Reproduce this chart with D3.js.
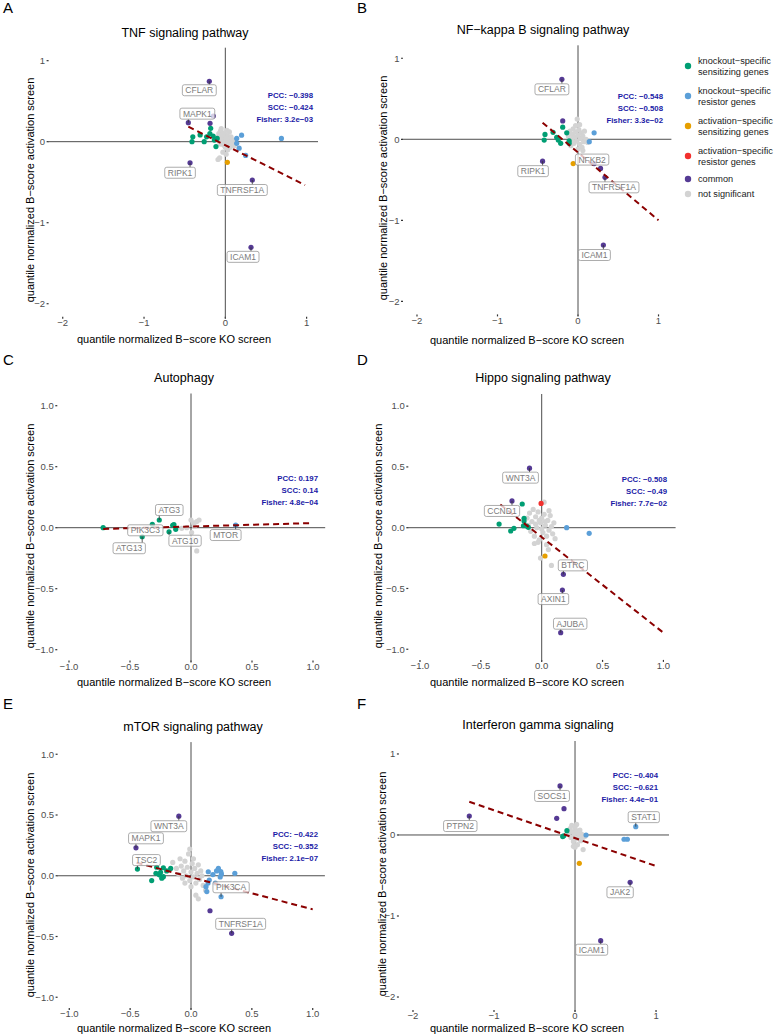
<!DOCTYPE html>
<html>
<head>
<meta charset="utf-8">
<script src="https://cdn.jsdelivr.net/npm/d3@7"></script>
<style>
  body { margin: 0; background: #fff; }
  text { font-family: "Liberation Sans", Arial, sans-serif; }
</style>
</head>
<body>
<div class="fig"></div>
<script>
/* Six KO vs activation screen scatter panels, redrawn from the figure. */

// ---- data ----
const panelTitles = ["TNF signaling pathway", "NF\u2212kappa B signaling pathway", "Autophagy",
                     "Hippo signaling pathway", "mTOR signaling pathway", "Interferon gamma signaling"];
const panelLetters = ["A", "B", "C", "D", "E", "F"];
const xTitle = "quantile normalized B\u2212score KO screen";
const yTitle = "quantile normalized B\u2212score activation screen";

const groupKeys = ["ks", "kr", "as", "ar", "cm", "ns"];
const groupNames = [["knockout\u2212specific", "sensitizing genes"], ["knockout\u2212specific", "resistor genes"],
                    ["activation\u2212specific", "sensitizing genes"], ["activation\u2212specific", "resistor genes"],
                    ["common"], ["not significant"]];

const wideTicks = [-2, -1, 0, 1];
const narrowTicks = [-1, -0.5, 0, 0.5, 1];

// [x, y, group]
const tnfPoints = [
  [-0.1,0.05,"ns"],[-0.08,0.1,"ns"],[-0.06,0.13,"ns"],[-0.05,0.07,"ns"],[-0.04,0.02,"ns"],[-0.03,0.11,"ns"],
  [-0.02,0.06,"ns"],[-0.01,0.0,"ns"],[0.0,0.09,"ns"],[0.01,0.04,"ns"],[0.02,-0.02,"ns"],[0.03,0.07,"ns"],
  [0.04,0.01,"ns"],[0.05,-0.04,"ns"],[0.06,0.03,"ns"],[0.07,0.06,"ns"],[0.08,-0.01,"ns"],[0.1,0.02,"ns"],
  [-0.07,0.0,"ns"],[-0.02,-0.04,"ns"],[0.0,-0.07,"ns"],[0.03,-0.1,"ns"],[-0.03,-0.13,"ns"],[0.01,-0.155,"ns"],
  [-0.07,-0.2,"ns"],[-0.09,-0.22,"ns"],[0.05,0.12,"ns"],[0.02,0.14,"ns"],[-0.05,0.16,"ns"],[0.11,-0.05,"ns"],
  [0.06,-0.07,"ns"],[-0.06,-0.03,"ns"],
  [-0.40,0.06,"ks"],[-0.41,0.0,"ks"],[-0.31,0.083,"ks"],[-0.26,0.0,"ks"],[-0.23,0.06,"ks"],[-0.18,0.165,"ks"],
  [-0.19,0.10,"ks"],[-0.15,0.07,"ks"],[-0.135,0.02,"ks"],[-0.115,-0.06,"ks"],[-0.10,0.04,"ks"],
  [0.14,0.04,"kr"],[0.20,0.08,"kr"],[0.14,-0.02,"kr"],[0.17,-0.08,"kr"],[0.25,-0.17,"kr"],[0.69,0.04,"kr"],
  [0.025,-0.255,"as"],
  [-0.148,0.317,"cm"],[-0.188,0.227,"cm"]
];
const tnfLabels = [["CFLAR",-0.197,0.746,"cm"],["MAPK1",-0.455,0.235,"cm"],["RIPK1",-0.434,-0.26,"cm"],
                   ["TNFRSF1A",0.332,-0.473,"cm"],["ICAM1",0.316,-1.304,"cm"]];
const tnfFit = [[-0.455,0.185],[0.98,-0.535]];
const tnfStats = ["PCC: \u22120.398", "SCC: \u22120.424", "Fisher: 3.2e\u221203"];

const nfkbPoints = [
  [-0.12,0.04,"ns"],[-0.1,0.1,"ns"],[-0.08,0.0,"ns"],[-0.07,0.06,"ns"],[-0.06,0.13,"ns"],[-0.05,-0.05,"ns"],
  [-0.04,0.03,"ns"],[-0.03,0.09,"ns"],[-0.02,-0.02,"ns"],[-0.01,0.25,"ns"],[0.0,0.05,"ns"],[0.01,0.12,"ns"],
  [0.02,-0.06,"ns"],[0.03,0.01,"ns"],[0.04,0.08,"ns"],[0.05,-0.1,"ns"],[0.06,0.04,"ns"],[0.07,-0.03,"ns"],
  [0.08,0.1,"ns"],[0.1,0.0,"ns"],[0.12,-0.04,"ns"],[0.0,-0.12,"ns"],[-0.03,0.17,"ns"],[0.02,0.18,"ns"],
  [0.06,-0.14,"ns"],[-0.09,-0.08,"ns"],
  [-0.41,0.06,"ks"],[-0.42,-0.01,"ks"],[-0.31,0.086,"ks"],[-0.265,0.025,"ks"],[-0.245,-0.01,"ks"],
  [-0.215,-0.05,"ks"],[-0.19,0.15,"ks"],[-0.14,0.08,"ks"],[-0.11,-0.02,"ks"],[-0.11,-0.05,"ks"],
  [0.2,0.08,"kr"],[0.14,-0.03,"kr"],
  [-0.06,-0.3,"as"],
  [-0.19,0.226,"cm"],[0.28,-0.36,"cm"]
];
const nfkbLabels = [["CFLAR",-0.2,0.74,"cm"],["RIPK1",-0.44,-0.27,"cm"],["NFKB2",0.2,-0.3,"cm"],
                    ["TNFRSF1A",0.335,-0.47,"cm"],["ICAM1",0.315,-1.305,"cm"]];
const nfkbFit = [[-0.44,0.205],[1.0,-1.0]];
const nfkbStats = ["PCC: \u22120.548", "SCC: \u22120.508", "Fisher: 3.3e\u221202"];

const autoPoints = [
  [-0.076,-0.005,"ns"],[0.0,0.063,"ns"],[0.02,0.04,"ns"],[0.047,0.05,"ns"],[0.066,0.063,"ns"],
  [0.005,-0.04,"ns"],[0.047,-0.19,"ns"],[-0.035,0.0,"ns"],[0.03,0.01,"ns"],[0.01,-0.1,"ns"],
  [-0.72,0.0,"ks"],[-0.15,0.02,"ks"],[-0.14,0.025,"ks"],[-0.125,-0.013,"ks"]
];
const autoLabels = [["ATG3",-0.26,0.063,"ks"],["PIK3C3",-0.317,0.028,"ks"],["ATG13",-0.4,-0.074,"ks"],
                    ["ATG10",-0.18,-0.033,"ks"],["MTOR",0.366,0.022,"kr"]];
const autoFit = [[-0.72,-0.01],[1.0,0.038]];
const autoStats = ["PCC: 0.197", "SCC: 0.14", "Fisher: 4.8e\u221204"];

const hippoPoints = [
  [-0.12,0.08,"ns"],[-0.11,0.02,"ns"],[-0.1,0.12,"ns"],[-0.09,-0.03,"ns"],[-0.08,0.05,"ns"],[-0.07,0.15,"ns"],
  [-0.06,-0.07,"ns"],[-0.05,0.09,"ns"],[-0.04,0.0,"ns"],[-0.03,0.13,"ns"],[-0.02,-0.1,"ns"],[-0.01,0.04,"ns"],
  [0.0,0.08,"ns"],[0.01,-0.04,"ns"],[0.02,0.11,"ns"],[0.03,0.02,"ns"],[0.04,-0.07,"ns"],[0.05,0.06,"ns"],
  [0.06,-0.02,"ns"],[0.07,0.1,"ns"],[0.08,0.01,"ns"],[0.09,-0.05,"ns"],[0.1,0.04,"ns"],[0.11,-0.09,"ns"],
  [0.02,0.21,"ns"],[-0.03,-0.12,"ns"],[-0.01,-0.25,"ns"],[0.08,-0.31,"ns"],[0.055,-0.18,"ns"],
  [-0.06,-0.13,"ns"],[0.04,-0.14,"ns"],[0.06,0.14,"ns"],[-0.02,0.06,"ns"],[0.0,-0.01,"ns"],
  [0.03,0.05,"ns"],[-0.05,0.03,"ns"],
  [-0.35,0.03,"ks"],[-0.16,0.195,"ks"],[-0.255,-0.027,"ks"],[-0.228,-0.005,"ks"],[-0.145,0.077,"ks"],
  [-0.145,0.055,"ks"],[-0.15,0.016,"ks"],[-0.11,0.003,"ks"],[-0.123,0.014,"ks"],
  [0.205,0.0,"kr"],[0.39,-0.046,"kr"],
  [0.027,-0.233,"as"],
  [-0.005,0.2,"ar"]
];
const hippoLabels = [["WNT3A",-0.1,0.49,"cm"],["CCND1",-0.244,0.22,"cm"],["BTRC",0.178,-0.384,"cm"],
                     ["AXIN1",0.17,-0.513,"cm"],["AJUBA",0.156,-0.864,"cm"]];
const hippoFit = [[-0.34,0.19],[1.0,-0.864]];
const hippoStats = ["PCC: \u22120.508", "SCC: \u22120.49", "Fisher: 7.7e\u221202"];

const mtorPoints = [
  [-0.15,0.11,"ns"],[-0.12,0.06,"ns"],[-0.1,0.01,"ns"],[-0.09,0.14,"ns"],[-0.08,0.08,"ns"],[-0.07,-0.02,"ns"],
  [-0.06,0.04,"ns"],[-0.05,0.12,"ns"],[-0.04,0.0,"ns"],[-0.03,0.07,"ns"],[-0.02,0.18,"ns"],[-0.01,-0.04,"ns"],
  [0.0,0.03,"ns"],[0.01,0.1,"ns"],[0.02,-0.01,"ns"],[0.03,0.06,"ns"],[0.04,-0.06,"ns"],[0.05,0.02,"ns"],
  [0.06,0.09,"ns"],[0.07,-0.03,"ns"],[0.08,0.04,"ns"],[0.1,-0.08,"ns"],[0.04,-0.16,"ns"],[0.06,-0.19,"ns"],
  [-0.01,0.22,"ns"],[0.02,0.14,"ns"],[-0.05,-0.06,"ns"],[0.09,0.0,"ns"],[0.0,-0.09,"ns"],[0.12,-0.12,"ns"],
  [-0.323,-0.04,"ks"],[-0.282,0.07,"ks"],[-0.288,0.02,"ks"],[-0.26,0.008,"ks"],[-0.227,-0.008,"ks"],
  [-0.25,0.028,"ks"],[-0.227,0.066,"ks"],[-0.167,0.06,"ks"],[-0.2,0.04,"ks"],[-0.24,-0.02,"ks"],
  [0.142,0.033,"kr"],[0.18,0.01,"kr"],[0.21,0.04,"kr"],[0.225,0.06,"kr"],[0.245,0.035,"kr"],[0.25,0.015,"kr"],
  [0.36,0.02,"kr"],[0.15,-0.035,"kr"],[0.14,-0.06,"kr"],[0.123,-0.09,"kr"],[0.13,-0.13,"kr"],[0.24,-0.01,"kr"],
  [0.2,-0.06,"kr"],
  [0.156,-0.288,"cm"]
];
const mtorLabels = [["WNT3A",-0.1,0.49,"cm"],["MAPK1",-0.452,0.23,"cm"],["TSC2",-0.44,0.055,"ks"],
                    ["PIK3CA",0.247,-0.173,"kr"],["TNFRSF1A",0.334,-0.474,"cm"]];
const mtorFit = [[-0.447,0.107],[1.0,-0.277]];
const mtorStats = ["PCC: \u22120.422", "SCC: \u22120.352", "Fisher: 2.1e\u221207"];

const ifngPoints = [
  [-0.08,0.02,"ns"],[-0.06,0.08,"ns"],[-0.05,-0.03,"ns"],[-0.04,0.12,"ns"],[-0.03,0.04,"ns"],[-0.02,-0.08,"ns"],
  [-0.01,0.0,"ns"],[0.0,0.09,"ns"],[0.01,-0.05,"ns"],[0.02,0.05,"ns"],[0.03,-0.12,"ns"],[0.04,0.02,"ns"],
  [0.05,-0.02,"ns"],[0.06,0.06,"ns"],[0.07,-0.07,"ns"],[0.08,0.01,"ns"],[0.1,-0.18,"ns"],[0.0,-0.15,"ns"],
  [0.02,0.13,"ns"],[-0.02,-0.14,"ns"],[0.09,-0.04,"ns"],[0.12,-0.02,"ns"],
  [-0.1,0.053,"ks"],[-0.152,-0.02,"ks"],[-0.14,-0.01,"ks"],
  [0.136,0.0,"kr"],[0.605,-0.053,"kr"],[0.646,-0.053,"kr"],
  [0.053,-0.35,"as"],
  [-0.136,0.325,"cm"],[-0.226,0.206,"cm"]
];
const ifngLabels = [["SOCS1",-0.185,0.605,"cm"],["PTPN2",-1.305,0.234,"cm"],["STAT1",0.75,0.103,"kr"],
                    ["JAK2",0.68,-0.584,"cm"],["ICAM1",0.317,-1.305,"cm"]];
const ifngFit = [[-1.305,0.41],[0.99,-0.38]];
const ifngStats = ["PCC: \u22120.404", "SCC: \u22120.621", "Fisher: 4.4e\u221201"];

// ---- layout & style ----
const W = 777, H = 1035;
const colors = { ks: "#009E73", kr: "#5B9FD8", as: "#E69F00", ar: "#F2302E", cm: "#553A94", ns: "#D3D3D3" };

const panels = [
  { pts: tnfPoints, labels: tnfLabels, fit: tnfFit, stats: tnfStats, ticks: wideTicks,
    xd: [-2.18, 1.14], xr: [48.1, 318.0], yd: [-2.18, 1.16], yr: [318.3, 47.7],
    letter: [3, 13], title: [185, 37], xlab: [174, 339], ylab: [30, 190], statX: 313, statY: 95 },
  { pts: nfkbPoints, labels: nfkbLabels, fit: nfkbFit, stats: nfkbStats, ticks: wideTicks,
    xd: [-2.18, 1.16], xr: [402.5, 671.4], yd: [-2.18, 1.16], yr: [315.9, 45.3],
    letter: [357, 13], title: [543, 34], xlab: [527, 340], ylab: [383, 188], statX: 663, statY: 96 },
  { pts: autoPoints, labels: autoLabels, fit: autoFit, stats: autoStats, ticks: narrowTicks,
    xd: [-1.1, 1.1], xr: [56.8, 325.2], yd: [-1.1, 1.1], yr: [661.9, 393.5],
    letter: [3, 365], title: [184, 382], xlab: [174, 682], ylab: [30, 536], statX: 318, statY: 478 },
  { pts: hippoPoints, labels: hippoLabels, fit: hippoFit, stats: hippoStats, ticks: narrowTicks,
    xd: [-1.1, 1.1], xr: [407.8, 675.6], yd: [-1.1, 1.1], yr: [661.4, 394.0],
    letter: [357, 365], title: [543, 382], xlab: [527, 682], ylab: [378, 536], statX: 667, statY: 479 },
  { pts: mtorPoints, labels: mtorLabels, fit: mtorFit, stats: mtorStats, ticks: narrowTicks,
    xd: [-1.1, 1.1], xr: [57.1, 324.9], yd: [-1.1, 1.1], yr: [1009.4, 742.1],
    letter: [3, 709], title: [193, 731], xlab: [174, 1028.5], ylab: [30, 885], statX: 318, statY: 834 },
  { pts: ifngPoints, labels: ifngLabels, fit: ifngFit, stats: ifngStats, ticks: wideTicks,
    xd: [-2.18, 1.16], xr: [398.4, 669.0], yd: [-2.18, 1.16], yr: [1011.6, 741.0],
    letter: [357, 709], title: [538, 729], xlab: [527, 1028.5], ylab: [382, 884], statX: 658, statY: 775 }
];

// label box offsets from the point, in px
const labelNudge = {
  "0CFLAR": [-10, 9], "0MAPK1": [9, -9], "0RIPK1": [-10, 10], "0TNFRSF1A": [-10, 10], "0ICAM1": [-8, 9.5],
  "1CFLAR": [-10, 10], "1RIPK1": [-9.5, 10], "1NFKB2": [-2, -4], "1TNFRSF1A": [9, 10], "1ICAM1": [-9, 10],
  "2ATG3": [10, -10], "2PIK3C3": [-7, 6], "2ATG13": [-13, 11.5], "2ATG10": [16, 9], "2MTOR": [-10, 10],
  "3WNT3A": [-9, 9.5], "3CCND1": [-10, 10], "3BTRC": [9.5, -9], "3AXIN1": [-9, 9], "3AJUBA": [9.5, -9],
  "4WNT3A": [-10, 10], "4MAPK1": [10, -9.5], "4TSC2": [9, -9], "4PIK3CA": [10, -9.5], "4TNFRSF1A": [9, -9.5],
  "5SOCS1": [-8, 10], "5PTPN2": [-9, 10], "5STAT1": [8, -9.5], "5JAK2": [-10, 10], "5ICAM1": [-9, 9]
};

const svg = d3.select(".fig").append("svg")
  .attr("width", W).attr("height", H)
  .style("display", "block");

const fmtWide = d => d3.format("d")(d);
const fmtNarrow = d => d3.format(".1f")(d);

panels.forEach((p, i) => {
  const x = d3.scaleLinear().domain(p.xd).range(p.xr);
  const y = d3.scaleLinear().domain(p.yd).range(p.yr);
  const fmt = p.ticks === wideTicks ? fmtWide : fmtNarrow;
  const g = svg.append("g").attr("class", "panel");

  g.append("text").attr("x", p.letter[0]).attr("y", p.letter[1])
    .style("font-size", "15px").text(panelLetters[i]);

  g.append("text").attr("x", p.title[0]).attr("y", p.title[1])
    .attr("text-anchor", "middle").style("font-size", "12.5px").text(panelTitles[i]);

  // ticks (labels plus tiny tick marks)
  const bottom = p.yr[0], left = p.xr[0];
  p.ticks.forEach(t => {
    g.append("line").attr("x1", x(t)).attr("x2", x(t)).attr("y1", bottom - 1.5).attr("y2", bottom + 0.5)
      .attr("stroke", "#333").attr("stroke-width", 1.2);
    g.append("text").attr("x", x(t)).attr("y", bottom + 4.5).attr("dy", "0.35em")
      .attr("text-anchor", "middle").style("font-size", "9.5px").attr("fill", "#4d4d4d").text(fmt(t));
    g.append("line").attr("x1", left - 1.5).attr("x2", left + 0.5).attr("y1", y(t)).attr("y2", y(t))
      .attr("stroke", "#333").attr("stroke-width", 1.2);
    g.append("text").attr("x", left - 3).attr("y", y(t)).attr("dy", "0.35em")
      .attr("text-anchor", "end").style("font-size", "9.5px").attr("fill", "#4d4d4d").text(fmt(t));
  });

  g.append("text").attr("x", p.xlab[0]).attr("y", p.xlab[1]).attr("dy", "0.35em")
    .attr("text-anchor", "middle").style("font-size", "11px").text(xTitle);
  g.append("text").attr("transform", `translate(${p.ylab[0]},${p.ylab[1]}) rotate(-90)`)
    .attr("dy", "0.35em").attr("text-anchor", "middle").style("font-size", "11px").text(yTitle);

  // zero lines
  g.append("line").attr("x1", p.xr[0]).attr("x2", p.xr[1]).attr("y1", y(0)).attr("y2", y(0))
    .attr("stroke", "#4d4d4d").attr("stroke-width", 1);
  g.append("line").attr("x1", x(0)).attr("x2", x(0)).attr("y1", p.yr[1]).attr("y2", p.yr[0])
    .attr("stroke", "#4d4d4d").attr("stroke-width", 1);

  // points: grey first, then coloured
  const all = p.pts.concat(p.labels.map(d => [d[1], d[2], d[3]]));
  const ordered = all.filter(d => d[2] === "ns").concat(all.filter(d => d[2] !== "ns"));
  g.append("g").selectAll("circle").data(ordered).enter().append("circle")
    .attr("cx", d => x(d[0])).attr("cy", d => y(d[1])).attr("r", 2.6)
    .attr("fill", d => colors[d[2]]);

  // regression line
  g.append("line").attr("x1", x(p.fit[0][0])).attr("y1", y(p.fit[0][1]))
    .attr("x2", x(p.fit[1][0])).attr("y2", y(p.fit[1][1]))
    .attr("stroke", "#8B0000").attr("stroke-width", 2).attr("stroke-dasharray", "6,4");

  // stats text
  p.stats.forEach((s, k) => {
    g.append("text").attr("x", p.statX).attr("y", p.statY + k * 12).attr("dy", "0.35em")
      .attr("text-anchor", "end").style("font-size", "7.8px").style("font-weight", "bold")
      .attr("fill", "#1a1aa6").text(s);
  });

  // gene labels
  p.labels.forEach(d => {
    const px = x(d[1]), py = y(d[2]);
    const n = labelNudge[i + d[0]] || [-10, 10];
    const cx = px + n[0], cy = py + n[1];
    const lg = g.append("g");
    const seg = lg.append("line");
    const box = lg.append("rect");
    const t = lg.append("text").attr("x", cx).attr("y", cy).attr("dy", "0.35em")
      .attr("text-anchor", "middle").style("font-size", "8.5px").attr("fill", "#7a7a7a").text(d[0]);
    const w = t.node().getComputedTextLength() + 6, h = 11;
    box.attr("x", cx - w / 2).attr("y", cy - h / 2).attr("width", w).attr("height", h)
      .attr("rx", 2).attr("fill", "#fff").attr("fill-opacity", 0.75)
      .attr("stroke", "#8a8a8a").attr("stroke-width", 0.7);
    const ex = Math.max(cx - w / 2, Math.min(px, cx + w / 2));
    const ey = Math.max(cy - h / 2, Math.min(py, cy + h / 2));
    seg.attr("x1", px).attr("y1", py).attr("x2", ex).attr("y2", ey)
      .attr("stroke", "#333").attr("stroke-width", 0.8);
  });
});

// legend
const legY = [66, 96, 126, 156, 179, 194];
const leg = svg.append("g").attr("class", "legend");
groupKeys.forEach((k, j) => {
  leg.append("circle").attr("cx", 688).attr("cy", legY[j]).attr("r", 3.2).attr("fill", colors[k]);
  const lines = groupNames[j];
  lines.forEach((s, m) => {
    const yy = lines.length === 1 ? legY[j] : legY[j] - 5.5 + m * 11.5;
    leg.append("text").attr("x", 698).attr("y", yy).attr("dy", "0.35em")
      .style("font-size", "9.2px").attr("fill", "#1a1a1a").text(s);
  });
});
</script>
</body>
</html>
